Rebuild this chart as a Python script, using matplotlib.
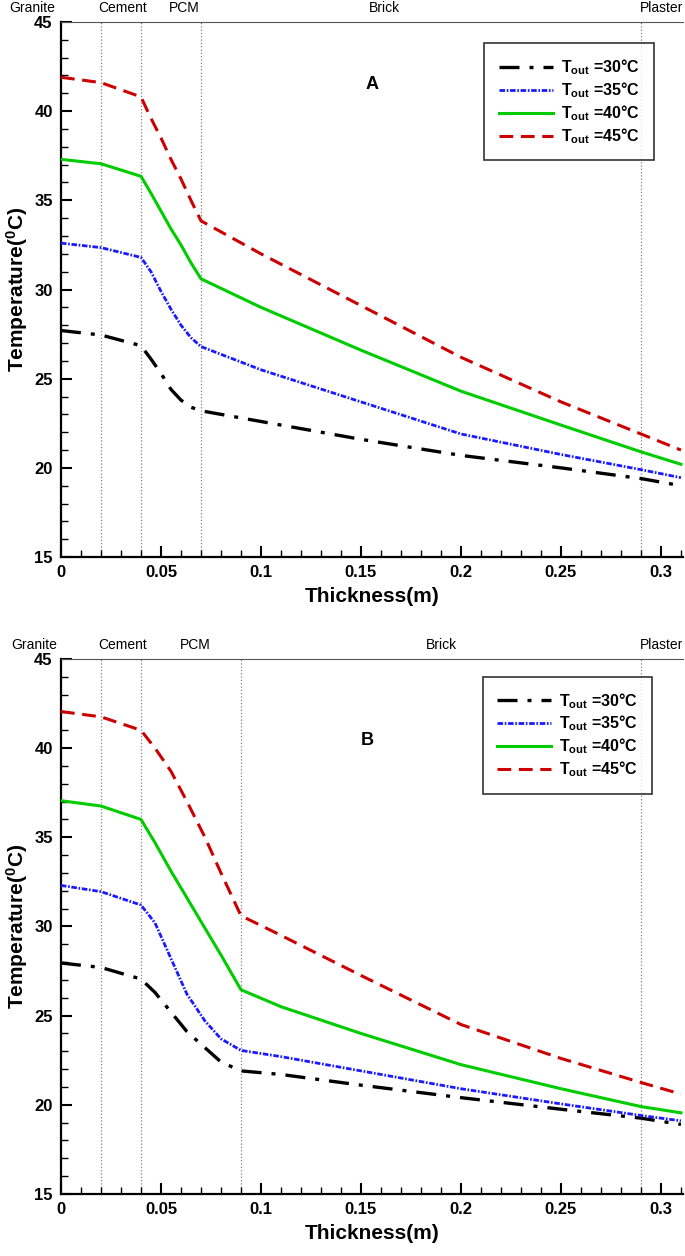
import matplotlib
matplotlib.use("Agg")
import matplotlib.pyplot as plt
from matplotlib.ticker import MultipleLocator

# ---------------- DATA ----------------
# panel A (PCM layer 0.04 - 0.07 m)
xa = [0, 0.02, 0.04, 0.045, 0.05, 0.055, 0.06, 0.065, 0.07, 0.1, 0.15, 0.2, 0.25, 0.29, 0.31]
a30 = [27.7, 27.45, 26.85, 26.1, 25.3, 24.4, 23.8, 23.4, 23.2, 22.6, 21.6, 20.7, 20.0, 19.4, 19.0]
a35 = [32.6, 32.35, 31.8, 31.0, 29.9, 28.9, 28.0, 27.3, 26.8, 25.5, 23.7, 21.9, 20.75, 19.9, 19.45]
a40 = [37.3, 37.05, 36.35, 35.4, 34.4, 33.4, 32.5, 31.5, 30.6, 29.0, 26.6, 24.3, 22.4, 20.9, 20.2]
a45 = [41.9, 41.6, 40.8, 39.6, 38.5, 37.3, 36.2, 35.0, 33.85, 32.0, 29.1, 26.2, 23.7, 21.9, 21.0]

# panel B (PCM layer 0.04 - 0.09 m)
xb = [0, 0.02, 0.04, 0.047, 0.055, 0.063, 0.072, 0.08, 0.09, 0.11, 0.15, 0.2, 0.25, 0.29, 0.31]
b30 = [27.95, 27.7, 27.05, 26.3, 25.2, 24.1, 23.2, 22.4, 21.9, 21.7, 21.1, 20.4, 19.75, 19.25, 18.9]
b35 = [32.3, 31.95, 31.2, 30.2, 28.2, 26.2, 24.7, 23.7, 23.05, 22.7, 21.9, 20.9, 20.05, 19.4, 19.1]
b40 = [37.05, 36.75, 36.0, 34.7, 33.1, 31.6, 29.9, 28.4, 26.45, 25.5, 24.0, 22.25, 20.9, 19.9, 19.55]
b45 = [42.05, 41.75, 41.0, 40.0, 38.7, 37.0, 35.0, 33.0, 30.6, 29.5, 27.25, 24.5, 22.6, 21.25, 20.6]

labels = ["30", "35", "40", "45"]
layers = ["Granite", "Cement", "PCM", "Brick", "Plaster"]
label_x_a = [-0.0145, 0.031, 0.0615, 0.1615, 0.3005]
label_x_b = [-0.0135, 0.031, 0.067, 0.19, 0.3005]
bounds_a = [0.02, 0.04, 0.07, 0.29]
bounds_b = [0.02, 0.04, 0.09, 0.29]

# ---------------- STYLE ----------------
plt.rcParams["font.family"] = ["Liberation Sans", "DejaVu Sans"]
plt.rcParams["mathtext.fontset"] = "custom"
plt.rcParams["mathtext.rm"] = "Liberation Sans:bold"
plt.rcParams["mathtext.it"] = "Liberation Sans:bold"
plt.rcParams["mathtext.bf"] = "Liberation Sans:bold"
plt.rcParams["mathtext.default"] = "rm"

styles = [
    dict(color="black", lw=2.4, ls=(0, (6, 3, 1.2, 3))),
    dict(color="#1a1aff", lw=2.0, ls=(0, (2, 0.6, 0.6, 0.6))),
    dict(color="#00cc00", lw=2.2, ls="-"),
    dict(color="#cc0000", lw=2.2, ls=(0, (4.5, 2.5))),
]

fig = plt.figure(figsize=(6.85, 12.56), dpi=100)


def draw_panel(ax, x, series, bounds, label_x, tag, leg_box):
    for bx in bounds:
        ax.axvline(bx, color="gray", lw=0.9, ls=":", zorder=1)
    for y, st, lab in zip(series, styles, labels):
        ax.plot(x, y, label="T$_{out}$ =" + lab + "°C", zorder=3, **st)

    ax.set_xlim(0, 0.311)
    ax.set_ylim(15, 45)
    ax.xaxis.set_minor_locator(MultipleLocator(0.01))
    ax.yaxis.set_major_locator(MultipleLocator(5))
    ax.yaxis.set_minor_locator(MultipleLocator(1))
    ax.set_xticks([0, 0.05, 0.1, 0.15, 0.2, 0.25, 0.3])
    ax.set_xticklabels(["0", "0.05", "0.1", "0.15", "0.2", "0.25", "0.3"])
    ax.tick_params(which="major", direction="in", length=8, width=1.5,
                   labelsize=12, pad=6, top=False, right=False)
    ax.tick_params(which="minor", direction="in", length=5, width=1.0,
                   top=False, right=False)
    for t in ax.get_xticklabels() + ax.get_yticklabels():
        t.set_fontweight("bold")

    ax.spines["left"].set_linewidth(1.6)
    ax.spines["bottom"].set_linewidth(1.6)
    ax.spines["top"].set_linewidth(0.8)
    ax.spines["top"].set_color("#555555")
    ax.spines["right"].set_visible(False)

    ax.set_xlabel("Thickness(m)", fontsize=15, fontweight="bold", labelpad=5)
    ax.set_ylabel("Temperature($^{0}$C)", fontsize=15, fontweight="bold", labelpad=3)

    trans = ax.get_xaxis_transform()
    for name, lx in zip(layers, label_x):
        ax.text(lx, 1.026, name, transform=trans, ha="center", va="center",
                fontsize=10, clip_on=False)

    ax.text(tag[0], tag[1], tag[2], ha="center", va="center",
            fontsize=13, fontweight="bold")

    leg = ax.legend(loc="upper left", bbox_to_anchor=leg_box,
                    prop={"size": 11.5, "weight": "bold"},
                    frameon=True, fancybox=False, handlelength=3.4,
                    borderpad=0.9, labelspacing=0.2, handletextpad=0.5)
    leg.get_frame().set_edgecolor("black")
    leg.get_frame().set_linewidth(1.2)


ax_a = fig.add_axes([0.089, 0.5565, 0.908, 0.426])
draw_panel(ax_a, xa, [a30, a35, a40, a45], bounds_a, label_x_a,
           (0.1555, 41.5, "A"), (0.668, 0.975))

ax_b = fig.add_axes([0.089, 0.0494, 0.908, 0.426])
draw_panel(ax_b, xb, [b30, b35, b40, b45], bounds_b, label_x_b,
           (0.153, 40.4, "B"), (0.665, 0.982))

fig.savefig("out.png", dpi=100)
